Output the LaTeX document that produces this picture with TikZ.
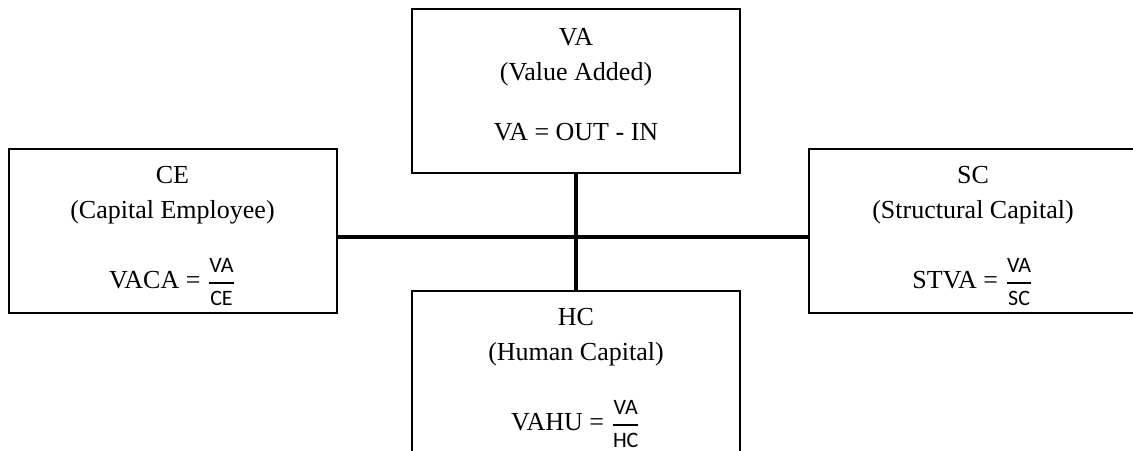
\documentclass[tikz,border=0pt]{standalone}
\usepackage{fontspec}
\setmainfont{Liberation Serif}
\newfontfamily\fracfont{Carlito}
\usetikzlibrary{positioning}

% ratio VA / X as in the equations of the boxes
\newcommand{\vaover}[2]{$\displaystyle{\hbox{\fracfont\fontsize{11}{12}\selectfont #1}\above1pt\hbox{\fracfont\fontsize{11}{12}\selectfont #2}}$}

\begin{document}
\begin{tikzpicture}[x=0.5pt, y=-0.5pt]
        \tikzset{box/.style={draw, line width=1pt, minimum width=164pt, minimum height=82pt, align=center, inner sep=0pt, font=\fontsize{13}{17.5}\selectfont},
                 link/.style={line width=2pt}}
        \useasboundingbox (0,0) rectangle (1133,450);
        \clip (0,0) rectangle (1133,450);

        \node[box] (va) at (576,91) {VA\\(Value Added)\\[12.5pt]VA = OUT - IN\rule[-7pt]{0pt}{7pt}};
        \node[box] (ce) at (172.5,231) {\rule{0pt}{13.6pt}CE\\(Capital Employee)\\[16pt]VACA = \vaover{VA}{CE}};
        \node[box] (sc) at (973,231) {\rule{0pt}{13.6pt}SC\\(Structural Capital)\\[16pt]STVA = \vaover{VA}{SC}};
        \node[box] (hc) at (576,373) {\rule{0pt}{13.6pt}HC\\(Human Capital)\\[16pt]VAHU = \vaover{VA}{HC}};

        \coordinate (hub) at (576,237);
        \draw[link] (ce.east |- hub) -- (sc.west |- hub);
        \draw[link] (va.south) -- (hc.north);
    \end{tikzpicture}
\end{document}
